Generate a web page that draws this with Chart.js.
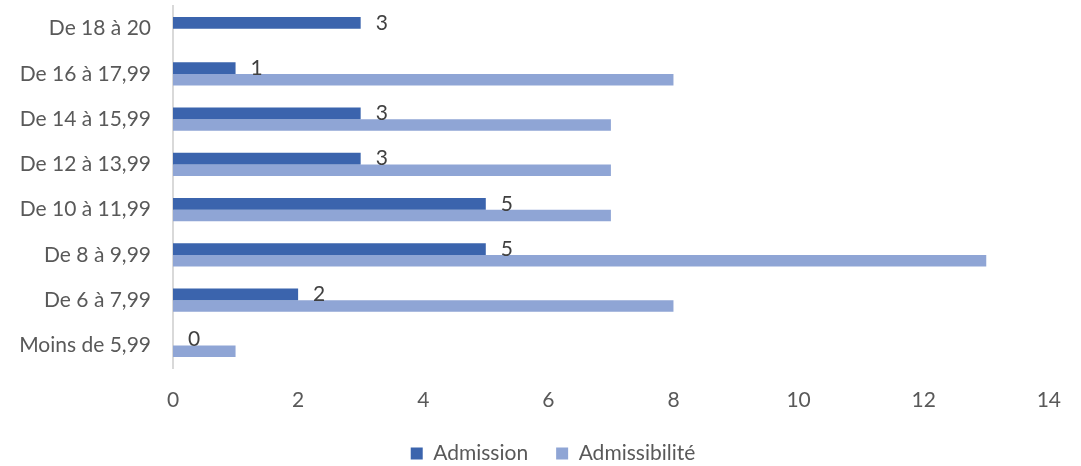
<!DOCTYPE html>
<html>
<head>
<meta charset="utf-8">
<script src="https://cdn.jsdelivr.net/npm/chart.js@4"></script>
<style>
  html, body { margin: 0; padding: 0; background: #fff; }
  #box { width: 1081px; height: 466px; }
</style>
</head>
<body>
<div id="box"><canvas id="myChart"></canvas></div>
<script>
// tranches de notes, du haut vers le bas
var tranches = ['De 18 à 20', 'De 16 à 17,99', 'De 14 à 15,99', 'De 12 à 13,99',
                'De 10 à 11,99', 'De 8 à 9,99', 'De 6 à 7,99', 'Moins de 5,99'];
var admission = [3, 1, 3, 3, 5, 5, 2, 0];
var admissibilite = [null, 8, 7, 7, 7, 13, 8, 1];
var ticksX = [0, 2, 4, 6, 8, 10, 12, 14];

var police = 'Lato, "Open Sans", sans-serif';

// étiquettes de valeur pour la série Admission
var etiquettes = {
    id: 'etiquettes',
    afterDatasetsDraw: function(chart) {
        var ctx = chart.ctx;
        var meta = chart.getDatasetMeta(0);
        ctx.save();
        ctx.font = '21px ' + police;
        ctx.fillStyle = '#404040';
        ctx.textAlign = 'left';
        ctx.textBaseline = 'middle';
        meta.data.forEach(function(bar, i) {
            ctx.fillText(String(admission[i]), bar.x + 15, bar.y);
        });
        ctx.restore();
    }
};

// petit décalage de la légende vers la droite
var decalageLegende = {
    id: 'decalageLegende',
    afterLayout: function(chart) {
        if (chart.legend) {
            chart.legend.left += 22;
            chart.legend.right += 22;
        }
    }
};

var ctx = document.getElementById('myChart').getContext('2d');

var myChart = new Chart(ctx, {
    type: 'bar',
    plugins: [etiquettes, decalageLegende],
    data: {
        labels: tranches,
        datasets: [{
            label: 'Admission',
            data: admission,
            backgroundColor: '#3B64AD',
            categoryPercentage: 0.51,
            barPercentage: 1
        }, {
            label: 'Admissibilité',
            data: admissibilite,
            backgroundColor: '#8FA5D5',
            categoryPercentage: 0.51,
            barPercentage: 1
        }]
    },
    options: {
        indexAxis: 'y',
        responsive: true,
        maintainAspectRatio: false,
        animation: false,
        layout: { padding: { left: 0, right: 19, top: 6, bottom: -8 } },
        scales: {
            x: {
                min: 0,
                max: 14,
                afterBuildTicks: function(scale) {
                    scale.ticks = ticksX.map(function(v) { return { value: v }; });
                },
                afterFit: function(scale) { scale.height = 47; },
                grid: { display: false, drawTicks: false },
                border: { display: false },
                ticks: {
                    padding: 20,
                    color: '#595959',
                    font: { family: police, size: 21 }
                }
            },
            y: {
                afterFit: function(scale) {
                    scale.width = 173;
                    scale.paddingTop = 0;
                    scale.paddingBottom = 0;
                },
                grid: { display: false, drawTicks: false },
                border: { display: true, color: '#D9D9D9', width: 2 },
                ticks: {
                    padding: 22,
                    color: '#595959',
                    font: { family: police, size: 21 }
                }
            }
        },
        plugins: {
            legend: {
                position: 'bottom',
                labels: {
                    boxWidth: 12,
                    boxHeight: 12,
                    padding: 28,
                    color: '#595959',
                    font: { family: police, size: 21 }
                }
            },
            tooltip: { enabled: false }
        }
    }
});
</script>
</body>
</html>
